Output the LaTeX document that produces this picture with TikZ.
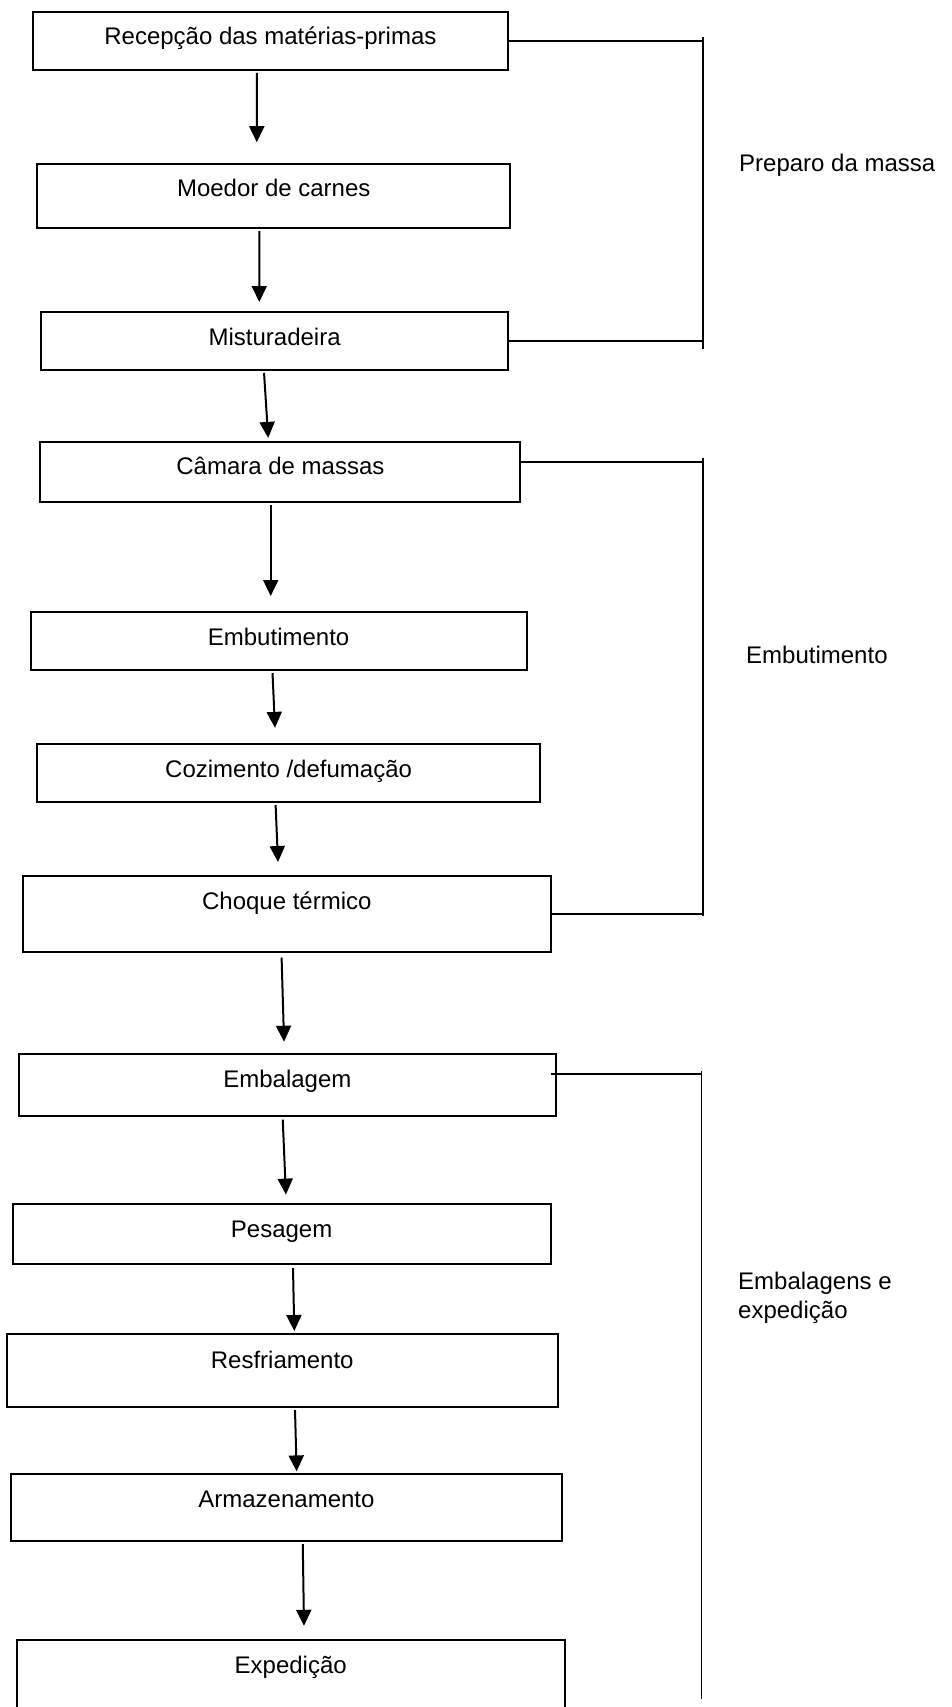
\documentclass[tikz,border=0pt]{standalone}
\usepackage{fontspec}
\setmainfont{Liberation Sans}
\usetikzlibrary{arrows.meta}
\begin{document}
\begin{tikzpicture}[x=1pt,y=-1pt,
  box/.style={draw=black,line width=2pt,rectangle,anchor=north west,inner sep=0pt},
  txt/.style={anchor=base,inner sep=0pt,font=\fontsize{24}{29}\selectfont},
  side/.style={anchor=base west,inner sep=0pt,align=left,font=\fontsize{24}{29}\selectfont},
  arr/.style={line width=2pt,-{Triangle[length=16pt,width=15pt]}},
  brace/.style={line width=1.7pt}]
\useasboundingbox (0,0) rectangle (952,1707);
\clip (0,0) rectangle (952,1707);
\fill[white] (0,0) rectangle (952,1707);

% process steps
\node[box,minimum width=475.8pt,minimum height=58.3pt] (b1) at (31.5,10.7) {};
\node[box,minimum width=472.7pt,minimum height=64.6pt] (b2) at (36.4,162.7) {};
\node[box,minimum width=467.3pt,minimum height=58pt] (b3) at (40,311) {};
\node[box,minimum width=480pt,minimum height=60.7pt] (b4) at (39.4,440.7) {};
\node[box,minimum width=495.8pt,minimum height=58.3pt] (b5) at (29.7,611) {};
\node[box,minimum width=503.6pt,minimum height=58.2pt] (b6) at (35.8,743.2) {};
\node[box,minimum width=527.8pt,minimum height=76.4pt] (b7) at (21.9,875) {};
\node[box,minimum width=537.5pt,minimum height=62.6pt] (b8) at (17.6,1052.8) {};
\node[box,minimum width=538.2pt,minimum height=60.3pt] (b9) at (11.5,1203) {};
\node[box,minimum width=551.4pt,minimum height=72.3pt] (b10) at (5.5,1333.3) {};
\node[box,minimum width=551.5pt,minimum height=66.8pt] (b11) at (9.7,1472.8) {};
\node[box,minimum width=547.8pt,minimum height=95pt] (b12) at (15.8,1639.2) {};

% step labels
\node[txt] (t1) at (b1 |- 0,45) {Recepção das matérias-primas};
\node[txt] (t2) at (b2 |- 0,196.7) {Moedor de carnes};
\node[txt] (t3) at (b3 |- 0,345) {Misturadeira};
\node[txt] (t4) at (b4 |- 0,474.6) {Câmara de massas};
\node[txt] (t5) at (b5 |- 0,645) {Embutimento};
\node[txt] (t6) at (b6 |- 0,777) {Cozimento /defumação};
\node[txt] (t7) at (b7 |- 0,909.3) {Choque térmico};
\node[txt] (t8) at (b8 |- 0,1087.6) {Embalagem};
\node[txt] (t9) at (b9 |- 0,1237.3) {Pesagem};
\node[txt] (t10) at (b10 |- 0,1368) {Resfriamento};
\node[txt] (t11) at (b11 |- 0,1507.6) {Armazenamento};
\node[txt] (t12) at (b12 |- 0,1673) {Expedição};

% flow arrows
\draw[arr] ([xshift=-13.5pt,yshift=-2pt]b1.south) -- ([xshift=-17pt,yshift=20.5pt]b2.north);
\draw[arr] ([xshift=-14.5pt,yshift=-1.7pt]b2.south) -- ([xshift=-15.4pt,yshift=9pt]b3.north);
\draw[arr] ([xshift=-10.6pt,yshift=-2pt]b3.south) -- ([xshift=-12.2pt,yshift=2.8pt]b4.north);
\draw[arr] ([xshift=-9.7pt,yshift=-1.6pt]b4.south) -- ([xshift=-7.9pt,yshift=15pt]b5.north);
\draw[arr] ([xshift=-6.1pt,yshift=-1.7pt]b5.south) -- ([xshift=-13.6pt,yshift=15.3pt]b6.north);
\draw[arr] ([xshift=-13pt,yshift=-1.6pt]b6.south) -- ([xshift=-8.8pt,yshift=13pt]b7.north);
\draw[arr] ([xshift=-5.2pt,yshift=-4.3pt]b7.south) -- ([xshift=-3.3pt,yshift=11.1pt]b8.north);
\draw[arr] ([xshift=-4.6pt,yshift=-2.3pt]b8.south) -- ([xshift=4.3pt,yshift=8.4pt]b9.north);
\draw[arr] ([xshift=11.4pt,yshift=-2.7pt]b9.south) -- ([xshift=12.1pt,yshift=2.3pt]b10.north);
\draw[arr] ([xshift=12.8pt,yshift=-2.4pt]b10.south) -- ([xshift=10.2pt,yshift=1.4pt]b11.north);
\draw[arr] ([xshift=16.3pt,yshift=-2.4pt]b11.south) -- ([xshift=13.3pt,yshift=13.4pt]b12.north);

% stage brackets
\coordinate (p1t) at (703,37);
\coordinate (p1b) at (703,349);
\draw[brace] (b1.east) -- (b1.east -| p1t);
\draw[brace] (b3.east) -- (b3.east -| p1t);
\draw[brace] (p1t) -- (p1b);
\node[side] (l1) at (739,171.7) {Preparo da massa};

\coordinate (p2t) at (703,457.5);
\coordinate (p2b) at (703,916.4);
\draw[brace] ([yshift=10.3pt]b4.east) -- ([yshift=10.3pt]b4.east -| p2t);
\draw[brace] (b7.east) -- (b7.east -| p2t);
\draw[brace] (p2t) -- (p2b);
\node[side] (l2) at (746,663.6) {Embutimento};

\coordinate (p3t) at (701.5,1071.3);
\coordinate (p3b) at (701.5,1698.6);
\draw[brace] ([xshift=-6pt,yshift=10.9pt]b8.east) -- ([yshift=10.9pt]b8.east -| p3t);
\draw[brace] (p3t) -- (p3b);
\node[side] (l3) at (738,1318.4) {Embalagens e\\expedição};
\end{tikzpicture}
\end{document}
